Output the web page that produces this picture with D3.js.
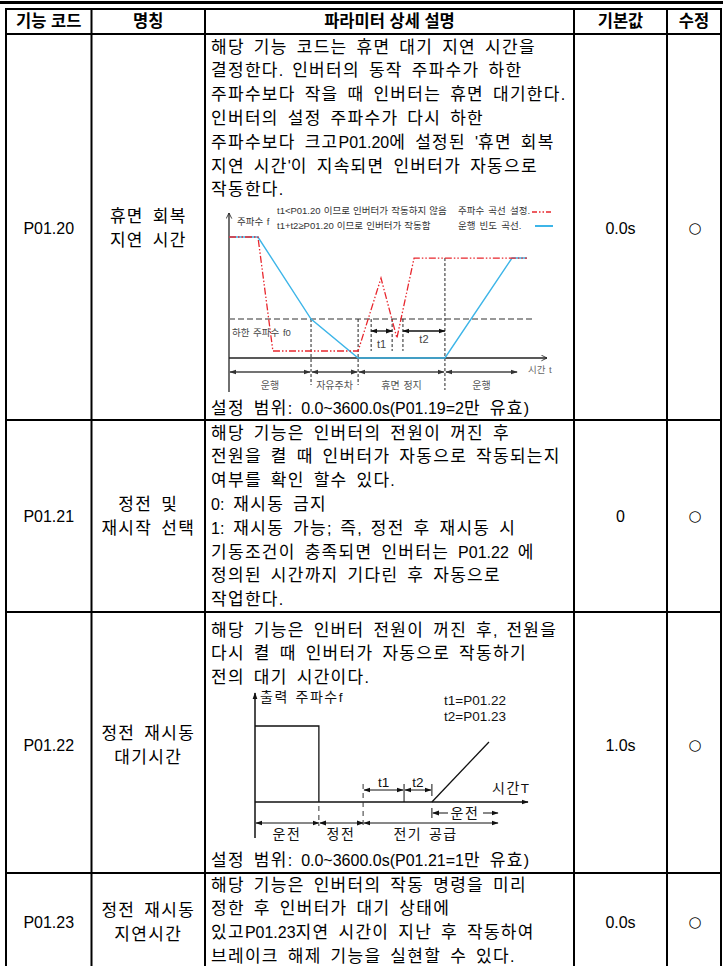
<!DOCTYPE html>
<html><head><meta charset="utf-8">
<script src="https://cdn.jsdelivr.net/npm/d3@7"></script>
<style>body{margin:0;background:#fff;} svg{display:block}</style>
</head><body><svg id="c" width="723" height="966"></svg>
<script>
// ---------- table data ----------
const headers = ["기능 코드","명칭","파라미터 상세 설명","기본값","수정"];
const codes = ["P01.20","P01.21","P01.22","P01.23"];
const names = [["휴면 회복","지연 시간"],["정전 및","재시작 선택"],["정전 재시동","대기시간"],["정전 재시동","지연시간"]];
const defaults = ["0.0s","0","1.0s","0.0s"];
const modify = ["○","○","○","○"];
const desc20 = ["해당 기능 코드는 휴면 대기 지연 시간을","결정한다. 인버터의 동작 주파수가 하한","주파수보다 작을 때 인버터는 휴면 대기한다.","인버터의 설정 주파수가 다시 하한","주파수보다 크고P01.20에 설정된 '휴면 회복","지연 시간'이 지속되면 인버터가 자동으로","작동한다."];
const range20 = "설정 범위: 0.0~3600.0s(P01.19=2만 유효)";
const desc21 = ["해당 기능은 인버터의 전원이 꺼진 후","전원을 켤 때 인버터가 자동으로 작동되는지","여부를 확인 할수 있다.","0: 재시동 금지","1: 재시동 가능; 즉, 정전 후 재시동 시","기동조건이 충족되면 인버터는 P01.22 에","정의된 시간까지 기다린 후 자동으로","작업한다."];
const desc22 = ["해당 기능은 인버터 전원이 꺼진 후, 전원을","다시 켤 때 인버터가 자동으로 작동하기","전의 대기 시간이다."];
const range22 = "설정 범위: 0.0~3600.0s(P01.21=1만 유효)";
const desc23 = ["해당 기능은 인버터의 작동 명령을 미리","정한 후 인버터가 대기 상태에","있고P01.23지연 시간이 지난 후 작동하여","브레이크 해제 기능을 실현할 수 있다."];

// ---------- diagram 1 data (time units, frequency %) ----------
const d1Blue = [[0,100],[9.1,100],[25.8,32.2],[40.6,0],[67.9,0],[89,82.6],[93.7,82.6]];
const d1Red  = [[0,100],[9.1,100],[13.8,5.8],[40.6,5.8],[47.8,66],[52.8,16.5],[58.2,82.6],[93.7,82.6]];
const d1F0 = 32.2;
const d1F0End = 95.3;
const d1Phases = [[0,25.8,"운행"],[25.8,40.6,"자유주차"],[40.6,67.9,"휴면 정지"],[67.9,90.9,"운행"]];
const d1T = [[44.7,51.3,"t1"],[54.7,67.9,"t2"]];
const d1Legend = ["t1<P01.20 이므로 인버터가 작동하지 않음","t1+t2≥P01.20 이므로 인버터가 작동함"];
const d1LegendKeys = ["주파수 곡선 설정.","운행 빈도 곡선."];

// ---------- diagram 2 data ----------
const d2Out = [[0,100],[23.4,100],[23.4,0]];
const d2Ramp = [[64.8,0],[85.7,79]];
const d2Phases = [[0,23.4,"운전"],[23.4,39.6,"정전"],[39.6,89,"전기 공급"]];
const d2T = [[39.6,54.6,"t1"],[54.6,64.8,"t2"]];
const d2Run = [64.8,89,"운전"];

const svg = d3.select("#c");
const FONT = "'Liberation Sans','Noto Sans CJK KR',sans-serif";
const defs = svg.append("defs");
function marker(id, color, open){
  const m = defs.append("marker").attr("id",id).attr("viewBox","0 0 10 10").attr("refX",9).attr("refY",5)
    .attr("markerWidth",7).attr("markerHeight",7).attr("markerUnits","userSpaceOnUse").attr("orient","auto-start-reverse");
  if(open) m.append("path").attr("d","M1,1L9,5L1,9").attr("fill","none").attr("stroke",color).attr("stroke-width",1.2);
  else m.append("path").attr("d","M0,1.5L10,5L0,8.5Z").attr("fill",color);
}
marker("a1","#333",false);
marker("a1o","#222",true);
marker("a2","#111",false);

// ---------- table ----------
const colX = [6, 91.5, 205, 574, 667, 721];
const rowY = [9, 34, 420, 612, 873, 970];
svg.append("rect").attr("x",0).attr("y",1).attr("width",723).attr("height",3).attr("fill","#000");
const g = svg.append("g").attr("stroke","#000").attr("stroke-width",2);
colX.forEach(x=>g.append("line").attr("x1",x).attr("x2",x).attr("y1",rowY[0]).attr("y2",rowY[5]));
rowY.slice(0,5).forEach(y=>g.append("line").attr("x1",colX[0]-1).attr("x2",colX[5]+1).attr("y1",y).attr("y2",y));

const mid = i => (colX[i]+colX[i+1])/2;
headers.forEach((h,i)=>svg.append("text").attr("x",mid(i)).attr("y",21.5).attr("dy","0.35em")
  .attr("text-anchor","middle").attr("font-family",FONT).attr("font-weight","bold").attr("font-size",16.5).text(h));

const HANGUL = /[\uAC00-\uD7A3]/;
function txt(x,y,s,opt={}){
  const size = opt.size||16;
  const t = svg.append("text").attr("x",x).attr("y",y).attr("dy","0.35em").attr("font-family",opt.font||FONT)
    .attr("font-size",size).attr("fill",opt.fill||"#000").attr("text-anchor",opt.anchor||"start")
    .attr("word-spacing",opt.ws!=null?opt.ws:4.5);
  const ls = opt.ls!=null?opt.ls:1.3;
  const hs = opt.hs||size;
  if(ls===0 && hs===size){ t.text(s); return t; }
  (s.match(/[\uAC00-\uD7A3]+|[^\uAC00-\uD7A3]+/g)||[]).forEach(p=>{
    const ts = t.append("tspan").text(p);
    if(HANGUL.test(p)) ts.attr("letter-spacing",ls).attr("font-size",hs);
  });
  return t;
}
const body = {hs:17, ls:1.3};
const rowCenters = [228, 516, 745, 922];
codes.forEach((c,i)=>{
  txt(mid(0), rowCenters[i], c, {anchor:"middle"});
  txt(mid(1), rowCenters[i]-12, names[i][0], Object.assign({anchor:"middle"}, body));
  txt(mid(1), rowCenters[i]+12, names[i][1], Object.assign({anchor:"middle"}, body));
  txt(mid(3), rowCenters[i], defaults[i], {anchor:"middle"});
  txt(mid(4)+1, rowCenters[i], modify[i], {anchor:"middle", size:15, font:"'DejaVu Sans',sans-serif", ls:0});
});
const TX = 211, LH = 23.8;
desc20.forEach((s,i)=>txt(TX, 47+i*LH, s, body));
txt(TX, 408, range20, body);
desc21.forEach((s,i)=>txt(TX, 433+i*LH, s, body));
desc22.forEach((s,i)=>txt(TX, 630+i*LH, s, body));
txt(TX, 860, range22, body);
desc23.forEach((s,i)=>txt(TX, 885+i*LH, s, body));

// ---------- diagram 1 ----------
(function(){
  const x = d3.scaleLinear().domain([0,100]).range([229,547]);
  const y = d3.scaleLinear().domain([0,100]).range([358,237]);
  const d = svg.append("g");
  const line = d3.line().x(p=>x(p[0])).y(p=>y(p[1]));
  const small = {size:9.5, fill:"#444", ws:1, ls:0};
  d.append("line").attr("x1",x(0)).attr("x2",x(0)).attr("y1",392).attr("y2",213).attr("stroke","#222").attr("stroke-width",1.3).attr("marker-end","url(#a1o)");
  d.append("line").attr("x1",x(0)).attr("x2",x(100)).attr("y1",y(0)).attr("y2",y(0)).attr("stroke","#222").attr("stroke-width",1.3).attr("marker-end","url(#a1o)");
  d.append("line").attr("x1",x(0)).attr("x2",x(d1F0End)).attr("y1",y(d1F0)).attr("y2",y(d1F0)).attr("stroke","#777").attr("stroke-width",1.6).attr("stroke-dasharray","6,3");
  const vd = (t,y1,y2)=>d.append("line").attr("x1",x(t)).attr("x2",x(t)).attr("y1",y1).attr("y2",y2).attr("stroke","#222").attr("stroke-width",1).attr("stroke-dasharray","3,2");
  vd(25.8, y(d1F0), 385); vd(40.6, y(d1F0), 385); vd(67.9, y(82.6), 390);
  vd(44.7, y(d1F0), y(5.8)); vd(51.3, y(d1F0), y(5.8)); vd(54.7, y(d1F0), y(5.8));
  d.append("path").attr("d",line(d1Blue)).attr("fill","none").attr("stroke","#3db5e8").attr("stroke-width",1.4);
  d.append("path").attr("d",line(d1Red)).attr("fill","none").attr("stroke","#e8262d").attr("stroke-width",1.3).attr("stroke-dasharray","7,2,1.5,2,1.5,2");
  d1T.forEach(([a,b,l])=>{
    d.append("line").attr("x1",x(a)).attr("x2",x(b)).attr("y1",331).attr("y2",331).attr("stroke","#111").attr("stroke-width",1.3)
      .attr("marker-start","url(#a2)").attr("marker-end","url(#a2)");
  });
  txt((x(44.7)+x(51.3))/2, 344, "t1", {size:11, fill:"#444", anchor:"middle", ls:0});
  txt((x(54.7)+x(67.9))/2, 339, "t2", {size:11, fill:"#444", anchor:"middle", ls:0});
  d1Phases.forEach(([a,b,l])=>{
    d.append("line").attr("x1",x(a)+1).attr("x2",x(b)-1).attr("y1",372).attr("y2",372).attr("stroke","#444").attr("stroke-width",1.4)
      .attr("marker-start","url(#a1)").attr("marker-end","url(#a1)");
    txt((x(a)+x(b))/2, 385, l, Object.assign({}, small, {anchor:"middle", fill:"#555", size:10}));
  });
  txt(528, 370, "시간 t", Object.assign({}, small, {fill:"#666"}));
  txt(237, 222, "주파수 f", Object.assign({}, small, {fill:"#333"}));
  txt(232, 333, "하한 주파수 f0", small);
  d1Legend.forEach((s,i)=>txt(277, 211+i*15, s, Object.assign({}, small, {fill:"#333", ws:0.5})));
  d1LegendKeys.forEach((s,i)=>txt(458, 211+i*15, s, Object.assign({}, small, {fill:"#333", ws:1.5})));
  d.append("line").attr("x1",532).attr("x2",553).attr("y1",212).attr("y2",212).attr("stroke","#e8262d").attr("stroke-width",1.3).attr("stroke-dasharray","5,2,1.5,2,1.5,2");
  d.append("line").attr("x1",535).attr("x2",553).attr("y1",226).attr("y2",226).attr("stroke","#3db5e8").attr("stroke-width",2);
})();

// ---------- diagram 2 ----------
(function(){
  const x = d3.scaleLinear().domain([0,100]).range([255,528]);
  const y = d3.scaleLinear().domain([0,100]).range([802,726]);
  const d = svg.append("g");
  const line = d3.line().x(p=>x(p[0])).y(p=>y(p[1]));
  const st = {size:13.5, fill:"#111", ws:3, ls:1.5, hs:14};
  d.append("line").attr("x1",x(0)).attr("x2",x(0)).attr("y1",838).attr("y2",693).attr("stroke","#111").attr("stroke-width",1.5).attr("marker-end","url(#a2)");
  d.append("line").attr("x1",x(0)).attr("x2",x(100)).attr("y1",y(0)).attr("y2",y(0)).attr("stroke","#111").attr("stroke-width",1.5).attr("marker-end","url(#a2)");
  d.append("path").attr("d",line(d2Out)).attr("fill","none").attr("stroke","#111").attr("stroke-width",1.3);
  d.append("path").attr("d",line(d2Ramp)).attr("fill","none").attr("stroke","#111").attr("stroke-width",1.3);
  const vd = (t,y1,y2)=>d.append("line").attr("x1",x(t)).attr("x2",x(t)).attr("y1",y1).attr("y2",y2).attr("stroke","#333").attr("stroke-width",1).attr("stroke-dasharray","5,4");
  vd(23.4, 806, 826); vd(39.6, 784, 826);
  d.append("line").attr("x1",x(54.6)).attr("x2",x(54.6)).attr("y1",784).attr("y2",802).attr("stroke","#111").attr("stroke-width",1);
  d.append("line").attr("x1",x(64.8)).attr("x2",x(64.8)).attr("y1",784).attr("y2",796).attr("stroke","#111").attr("stroke-width",1);
  d2T.forEach(([a,b,l])=>{
    d.append("line").attr("x1",x(a)+1).attr("x2",x(b)-1).attr("y1",790).attr("y2",790).attr("stroke","#111").attr("stroke-width",1)
      .attr("marker-start","url(#a2)").attr("marker-end","url(#a2)");
    txt((x(a)+x(b))/2, 782, l, Object.assign({}, st, {anchor:"middle"}));
  });
  d.append("line").attr("x1",x(d2Run[0])).attr("x2",x(d2Run[0])).attr("y1",808).attr("y2",818).attr("stroke","#111").attr("stroke-width",1);
  d.append("line").attr("x1",x(d2Run[0])+1).attr("x2",448).attr("y1",813).attr("y2",813).attr("stroke","#111").attr("stroke-width",1).attr("marker-start","url(#a2)");
  d.append("line").attr("x1",483).attr("x2",x(d2Run[1])).attr("y1",813).attr("y2",813).attr("stroke","#111").attr("stroke-width",1).attr("marker-end","url(#a2)");
  txt((x(d2Run[0])+x(d2Run[1]))/2, 813, d2Run[2], Object.assign({}, st, {anchor:"middle"}));
  d2Phases.forEach(([a,b,l])=>{
    d.append("line").attr("x1",x(a)+1).attr("x2",x(b)).attr("y1",823).attr("y2",823).attr("stroke","#111").attr("stroke-width",1)
      .attr("marker-start","url(#a2)").attr("marker-end","url(#a2)");
    txt((x(a)+x(b))/2 - (l.length>2?5:0), 834, l, Object.assign({}, st, {anchor:"middle"}));
  });
  txt(260, 697, "출력 주파수f", st);
  txt(444, 700, "t1=P01.22", st);
  txt(444, 716, "t2=P01.23", st);
  txt(492, 788, "시간T", st);
})();
</script></body></html>
